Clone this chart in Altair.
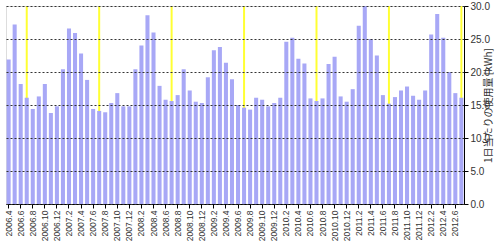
import altair as alt
import pandas as pd

years_months = []
for y in range(2006, 2013):
    for m in range(1, 13):
        if (y == 2006 and m < 4) or (y == 2012 and m > 7):
            continue
        years_months.append(f"{y}.{m}")
months = years_months  # 2006.4 .. 2012.7

usage = [
    21.9, 27.2, 18.2, 16.1, 14.4, 16.3, 18.2, 13.8, 14.8,
    20.4, 26.6, 25.9, 22.8, 18.8, 14.4, 14.1, 13.9, 15.3, 16.8, 14.8, 14.8,
    20.4, 24.0, 28.6, 26.0, 17.9, 15.8, 15.6, 16.5, 20.4, 17.2, 15.5, 15.3,
    19.2, 23.3, 23.8, 21.4, 18.9, 15.0, 14.6, 14.3, 16.1, 15.8, 14.8, 15.3,
    16.1, 24.6, 25.2, 22.0, 21.3, 16.0, 15.6, 16.0, 21.2, 22.3, 16.3, 15.5,
    17.4, 27.0, 30.0, 25.0, 22.5, 16.5, 15.2, 16.2, 17.2, 17.8, 16.4, 15.8,
    17.2, 25.7, 28.8, 25.2, 20.0, 16.8, 16.1,
]

marker_months = ["2006.7", "2007.7", "2008.7", "2009.7", "2010.7", "2011.7", "2012.7"]
marker_value = 30
y_ticks = [0, 5, 10, 15, 20, 25, 30]

df = pd.DataFrame({"month": months, "usage": usage})
dm = pd.DataFrame({"month": marker_months, "usage": [marker_value] * len(marker_months)})

xscale = alt.Scale(domain=months, paddingInner=0.33, paddingOuter=0.1)
yscale = alt.Scale(domain=[0, 30], nice=False, zero=True)

xaxis = alt.Axis(
    values=months[::2], labelAngle=270, labelFontSize=8.5, labelFont="Liberation Sans",
    labelColor="#333333", tickSize=4, tickColor="#000000", domainColor="#000000",
    title=None, labelPadding=2, labelOverlap=False,
)
yaxis = alt.Axis(
    orient="right", values=y_ticks, tickCount=7, format=".1f", labelOverlap=False,
    labelFontSize=10, labelFont="Liberation Sans", labelColor="#333333",
    tickSize=4, tickColor="#000000", domainColor="#000000",
    grid=True, gridColor="#333333", gridDash=[2, 2], gridWidth=1,
    title="1日当たりの使用量 [kWh]", titleAngle=270, titleFontSize=10,
    titleFont="Noto Sans CJK JP", titleFontWeight="normal", titleColor="#333333",
    titlePadding=4, zindex=1,
)

markers = alt.Chart(dm).mark_bar(size=2, color="#ffff33").encode(
    x=alt.X("month:N", scale=xscale, axis=xaxis, sort=months),
    y=alt.Y("usage:Q", scale=yscale, axis=yaxis),
)
bars = alt.Chart(df).mark_bar(color="#a8a8f6").encode(
    x=alt.X("month:N", scale=xscale, axis=xaxis, sort=months),
    y=alt.Y("usage:Q", scale=yscale, axis=yaxis),
)

chart = (
    alt.layer(markers, bars)
    .properties(width=458, height=198, padding={"left": 4, "top": 1, "right": 2, "bottom": 2})
    .configure_view(stroke="#404040", strokeWidth=1.5)
    .configure(background="white")
)
chart.save("out.html", embed_options={"renderer": "svg", "actions": False})
